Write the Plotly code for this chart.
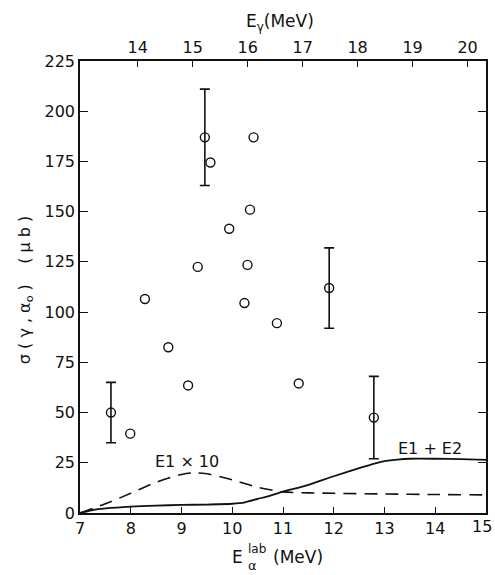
import plotly.graph_objects as go

# ---- data ----
# open-circle data points (no error bars)
pts_e = [7.99, 8.28, 8.74, 9.13, 9.32, 9.57, 9.94, 10.24, 10.30, 10.35, 10.42, 10.88, 11.31]
pts_s = [39.5, 106.5, 82.5, 63.5, 122.5, 174.5, 141.5, 104.5, 123.5, 151.0, 187.0, 94.5, 64.5]

# points with error bars
err_e = [7.61, 9.46, 11.91, 12.79]
err_s = [50.0, 187.0, 112.0, 47.5]
err_d = [15.0, 24.0, 20.0, 20.5]

# E1 x 10 curve (dashed)
e1_e = [7.0, 7.5, 8.0, 8.5, 9.0, 9.25, 9.5, 10.0, 10.5, 11.0, 11.5, 12.0, 13.0, 14.0, 15.0]
e1_s = [0.0, 4.6, 9.8, 15.3, 19.2, 20.0, 19.5, 16.5, 12.8, 10.5, 10.0, 9.8, 9.5, 9.2, 9.0]

# E1 + E2 curve (solid)
e12_e = [7.0, 7.25, 7.5, 8.0, 8.5, 9.0, 9.5, 10.0, 10.25, 10.5, 10.75, 11.0, 11.5, 12.0, 12.5, 12.8, 13.0, 13.25, 13.5, 14.0, 14.5, 15.0]
e12_s = [0.0, 1.5, 2.3, 3.2, 3.7, 4.0, 4.2, 4.6, 5.3, 7.0, 8.7, 10.6, 14.0, 18.3, 22.3, 24.6, 25.8, 26.6, 27.0, 27.0, 26.8, 26.4]

x_ticks = [7, 8, 9, 10, 11, 12, 13, 14, 15]
y_ticks = [0, 25, 50, 75, 100, 125, 150, 175, 200, 225]
top_ticks = [14, 15, 16, 17, 18, 19, 20]

# E_gamma = G0 + G1 * E_alpha(lab)
G0, G1 = 6.49, 0.923
x_range = [7, 15]
top_range = [G0 + G1 * x_range[0], G0 + G1 * x_range[1]]

FONT = "DejaVu Sans"
BLACK = "#111111"

fig = go.Figure()

fig.add_trace(go.Scatter(x=e1_e, y=e1_s, mode="lines", line=dict(color=BLACK, width=1.6, dash="13px,8px", shape="spline", smoothing=0.8),
                         showlegend=False, hoverinfo="skip"))
fig.add_trace(go.Scatter(x=e12_e, y=e12_s, mode="lines", line=dict(color=BLACK, width=1.8, shape="spline", smoothing=0.8),
                         showlegend=False, hoverinfo="skip"))
fig.add_trace(go.Scatter(x=err_e, y=err_s, mode="markers",
                         marker=dict(symbol="circle-open", size=9, color=BLACK, line=dict(width=1.4)),
                         error_y=dict(type="data", array=err_d, visible=True, color=BLACK, thickness=1.6, width=5),
                         showlegend=False))
fig.add_trace(go.Scatter(x=pts_e, y=pts_s, mode="markers",
                         marker=dict(symbol="circle-open", size=9, color=BLACK, line=dict(width=1.4)),
                         showlegend=False))
# dummy trace to activate the top (E_gamma) axis
fig.add_trace(go.Scatter(x=top_range, y=[0, 0], xaxis="x2", yaxis="y", mode="lines",
                         line=dict(width=0), opacity=0, showlegend=False, hoverinfo="skip"))

axis_common = dict(showline=True, linecolor=BLACK, linewidth=1.6, ticks="inside", tickcolor=BLACK,
                   tickwidth=1.4, showgrid=False, zeroline=False, automargin=False,
                   ticklabeloverflow="allow",
                   tickfont=dict(family=FONT, size=16, color=BLACK))

# last bottom tick label is drawn as a right-anchored annotation so it stays inside the page
bottom_text = [str(v) for v in x_ticks[:-1]] + [""]

fig.update_layout(
    width=495, height=575,
    margin=dict(l=80, r=9, t=61, b=62),
    paper_bgcolor="white", plot_bgcolor="white",
    font=dict(family=FONT, color=BLACK),
    xaxis=dict(range=x_range, tickvals=x_ticks, ticktext=bottom_text, ticklen=6, mirror=False,
               **axis_common),
    xaxis2=dict(range=top_range, tickvals=top_ticks, ticktext=[str(v) for v in top_ticks], overlaying="x",
                side="top", anchor="y", ticklen=6, **axis_common),
    yaxis=dict(range=[0, 225], tickvals=y_ticks, ticktext=[str(v) for v in y_ticks], ticklen=8, mirror="ticks",
               **axis_common),
    annotations=[
        dict(text=str(x_ticks[-1]), x=x_ticks[-1], y=0, xref="x", yref="paper", xanchor="right",
             yanchor="top", xshift=8, yshift=-2, showarrow=False,
             font=dict(family=FONT, size=16, color=BLACK)),
        dict(text="E1 × 10", x=9.1, y=25.5, xref="x", yref="y", showarrow=False,
             font=dict(family=FONT, size=16, color=BLACK)),
        dict(text="E1 + E2", x=13.9, y=32, xref="x", yref="y", showarrow=False,
             font=dict(family=FONT, size=16, color=BLACK)),
        dict(text="E<sub>γ</sub>(MeV)", x=0.4926, y=1, xref="paper", yref="paper", yanchor="middle",
             yshift=39, showarrow=False, font=dict(family=FONT, size=17, color=BLACK)),
        dict(text="E", x=0.406, y=0, xref="paper", yref="paper", yanchor="middle", xanchor="right",
             yshift=-44, showarrow=False, font=dict(family=FONT, size=17, color=BLACK)),
        dict(text="lab", x=0.406, y=0, xref="paper", yref="paper", yanchor="middle", xanchor="left",
             xshift=1, yshift=-36, showarrow=False, font=dict(family=FONT, size=12, color=BLACK)),
        dict(text="α", x=0.406, y=0, xref="paper", yref="paper", yanchor="middle", xanchor="left",
             xshift=1, yshift=-52, showarrow=False, font=dict(family=FONT, size=13, color=BLACK)),
        dict(text="(MeV)", x=0.406, y=0, xref="paper", yref="paper", yanchor="middle", xanchor="left",
             xshift=26, yshift=-44, showarrow=False, font=dict(family=FONT, size=17, color=BLACK)),
        dict(text="σ ( γ , α<sub>o</sub> )    ( μ b )", x=0, y=0.493, xref="paper", yref="paper",
             xanchor="center", yanchor="middle", xshift=-55, textangle=-90, showarrow=False,
             font=dict(family=FONT, size=16, color=BLACK)),
    ],
)

# remove the browser's default 8px page margin so figure pixels map 1:1 onto the window
fig.write_html("out.html", config={"displayModeBar": False},
               post_script="document.body.style.margin='0px';document.body.style.overflow='hidden';")
